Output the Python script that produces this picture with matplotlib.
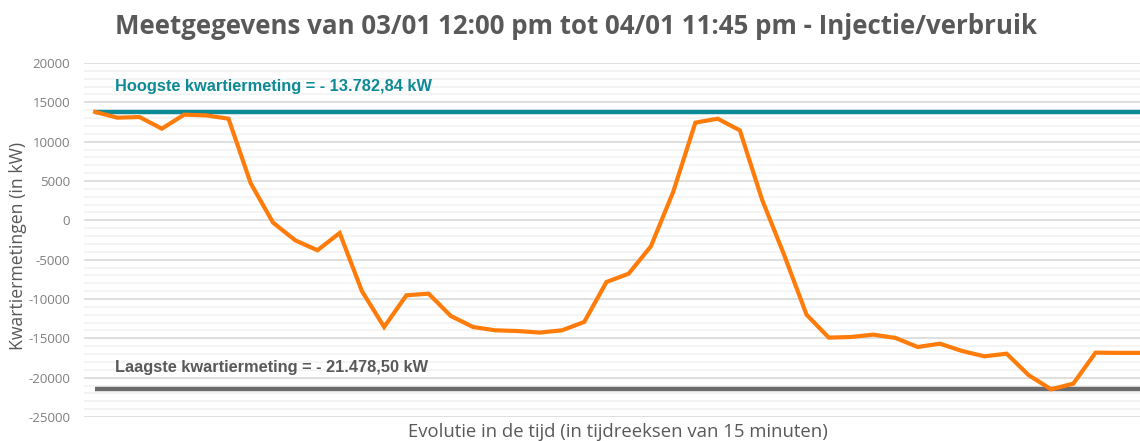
import numpy as np
import matplotlib.pyplot as plt
from matplotlib.ticker import MultipleLocator

metingen = [13783, 13050, 13130, 11650, 13430, 13340, 12920, 4700, -280,
            -2540, -3810, -1610, -8990, -13560, -9530, -9320, -12160,
            -13560, -13980, -14070, -14270, -13980, -12920, -7840, -6780,
            -3300, 3600, 12420, 12920, 11440, 2630, -4450, -11990, -14910,
            -14830, -14530, -14950, -16100, -15680, -16610, -17290, -16950,
            -19700, -21478, -20760, -16820, -16850, -16850]
hoogste = 13782.84
laagste = -21478.50
y_ticks = [20000, 15000, 10000, 5000, 0, -5000, -10000, -15000, -20000, -25000]

titel = 'Meetgegevens van 03/01 12:00 pm tot 04/01 11:45 pm - Injectie/verbruik'
label_hoog = 'Hoogste kwartiermeting = - 13.782,84 kW'
label_laag = 'Laagste kwartiermeting = - 21.478,50 kW'
x_titel = 'Evolutie in de tijd (in tijdreeksen van 15 minuten)'
y_titel = 'Kwartiermetingen (in kW)'

W, H = 1140, 441
fig = plt.figure(figsize=(W / 100, H / 100), dpi=100)
# plot area in pixels: left 84, right 1140, top 63, bottom 417
ax = fig.add_axes([84 / W, (H - 417) / H, (1140 - 84) / W, (417 - 63) / H])

x = np.arange(len(metingen))
ax.set_xlim(-0.5, len(metingen) - 1)
ax.set_ylim(-25000, 20000)

# gridlines (major every 5000, minor every 1000)
ax.yaxis.set_major_locator(MultipleLocator(5000))
ax.yaxis.set_minor_locator(MultipleLocator(1000))
ax.grid(axis='y', which='minor', color='#f2f2f2', lw=1.2)
ax.grid(axis='y', which='major', color='#d9d9d9', lw=1.2)
ax.set_axisbelow(True)
for s in ax.spines.values():
    s.set_visible(False)
ax.tick_params(axis='y', which='both', length=0, labelsize=9.5,
               labelcolor='#7f7f7f', pad=10)
ax.tick_params(axis='x', length=0, labelbottom=False)
ax.set_yticks(y_ticks)
ax.set_yticklabels([str(t) for t in y_ticks], family='Open Sans')

# max / min lines
ax.plot([0, len(metingen) + 5], [hoogste, hoogste], color='#0e8a96', lw=3.2,
        solid_capstyle='butt', zorder=3)
ax.plot([0, len(metingen) + 5], [laagste, laagste], color='#6b6b6b', lw=3.2,
        solid_capstyle='butt', zorder=3)
ax.plot(x, metingen, color='#ff7c0a', lw=3.0, solid_joinstyle='miter',
        zorder=4)

ax.text(0.9, 17000, label_hoog, color='#0e8a96', fontsize=11.8,
        fontweight='bold', family='Liberation Sans', va='center')
ax.text(0.9, -18700, label_laag, color='#595959', fontsize=11.8,
        fontweight='bold', family='Liberation Sans', va='center')

fig.text(576 / W, 1 - 26 / H, titel, ha='center', va='center',
         fontsize=18.6, fontweight='bold', color='#595959', family='Open Sans')
fig.text(618 / W, 1 - 432 / H, x_titel, ha='center', va='center',
         fontsize=13.3, color='#595959', family='Open Sans')
fig.text(18 / W, 1 - 246 / H, y_titel, ha='center', va='center',
         rotation=90, fontsize=12.7, color='#595959', family='Open Sans')

fig.savefig('out.png', dpi=100)
